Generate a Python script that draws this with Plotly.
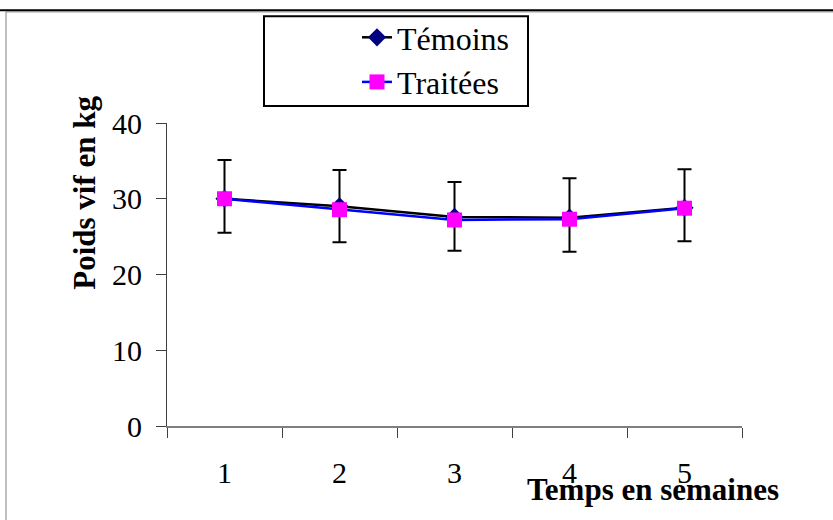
import plotly.graph_objects as go

semaines = ["1", "2", "3", "4", "5"]
temoins = [30.0, 29.0, 27.6, 27.5, 28.8]
traitees = [30.0, 28.55, 27.2, 27.3, 28.75]
err_plus = [5.1, 4.8, 4.6, 5.2, 5.1]
err_minus = [4.5, 4.75, 4.45, 4.5, 4.4]
y_ticks = [0, 10, 20, 30, 40]

FONT = "Liberation Serif"

L, R, T, B = 167, 742, 122, 426
W, H = 833, 520

def px(x):
    return (x - L) / (R - L)

def py(y):
    return (B - y) / (B - T)

fig = go.Figure()
fig.add_trace(go.Scatter(
    x=semaines, y=temoins, name="Témoins", mode="lines+markers",
    line=dict(color="black", width=2.5),
    marker=dict(symbol="diamond", size=14, color="#000080"),
    error_y=dict(type="data", symmetric=False, array=err_plus, arrayminus=err_minus,
                 color="black", thickness=2, width=7),
    legendgroup="a",
))
fig.add_trace(go.Scatter(
    x=semaines, y=traitees, name="Traitées", mode="lines+markers",
    line=dict(color="#0000FF", width=2.5),
    marker=dict(symbol="square", size=15, color="#FF00FF"),
    legendgroup="b",
))

shapes = [
    # outer frame
    dict(type="line", xref="paper", yref="paper", x0=px(0), x1=px(W), y0=py(9), y1=py(9),
         line=dict(color="black", width=2)),
    dict(type="rect", xref="paper", yref="paper", x0=px(6), x1=px(W + 10), y0=py(10.5), y1=py(H + 10),
         line=dict(color="#7f7f7f", width=1)),
    # legend box
    dict(type="rect", xref="paper", yref="paper", x0=px(264), x1=px(528), y0=py(15), y1=py(105),
         line=dict(color="black", width=2)),
]

fig.update_layout(
    width=W, height=H,
    margin=dict(l=L, r=W - R, t=T, b=H - B),
    paper_bgcolor="white", plot_bgcolor="white",
    font=dict(family=FONT, size=30, color="black"),
    showlegend=True,
    legend=dict(x=px(357), y=py(10), xanchor="left", yanchor="top",
                bgcolor="rgba(0,0,0,0)", borderwidth=0,
                font=dict(family=FONT, size=32, color="black"),
                traceorder="grouped", tracegroupgap=0),
    shapes=shapes,
    annotations=[
        dict(text="<b>Poids vif en kg</b>", xref="paper", yref="paper", x=px(85), y=py(192),
             textangle=-90, showarrow=False, font=dict(family=FONT, size=31, color="black"),
             xanchor="center", yanchor="middle"),
        dict(text="<b>Temps en semaines</b>", xref="paper", yref="paper", x=px(653), y=py(490),
             showarrow=False, font=dict(family=FONT, size=31, color="black"),
             xanchor="center", yanchor="middle"),
    ],
)
fig.update_xaxes(type="category", range=[-0.5, 4.5], tickson="boundaries", ticks="outside",
                 ticklen=10, tickcolor="#404040", showline=True, linecolor="#7f7f7f",
                 linewidth=1.5, showgrid=False, zeroline=False, ticklabelstandoff=19,
                 tickfont=dict(family=FONT, size=30, color="black"))
fig.update_yaxes(range=[0, 40], tickvals=y_ticks, ticks="outside", ticklen=10,
                 tickcolor="#404040", showline=True, linecolor="#404040", linewidth=1.2,
                 showgrid=False, zeroline=False, ticklabelstandoff=8,
                 tickfont=dict(family=FONT, size=30, color="black"))

fig.write_html("out.html", config={"displayModeBar": False},
               post_script="document.body.style.margin='0';")
